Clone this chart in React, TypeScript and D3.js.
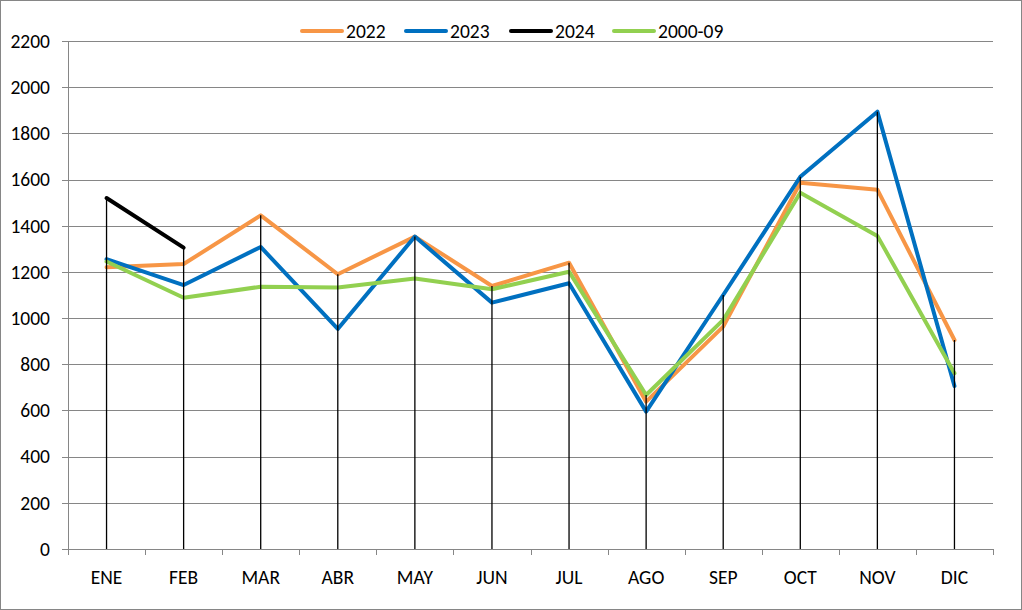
import React, { useEffect, useRef } from "react";
import * as d3 from "d3";

const months = ["ENE", "FEB", "MAR", "ABR", "MAY", "JUN", "JUL", "AGO", "SEP", "OCT", "NOV", "DIC"];
const s2022 = [1220, 1234, 1445, 1190, 1353, 1139, 1240, 638, 963, 1586, 1556, 905];
const s2023 = [1255, 1143, 1308, 953, 1353, 1067, 1151, 595, 1100, 1612, 1894, 706];
const s2024: (number | null)[] = [1520, 1305, null, null, null, null, null, null, null, null, null, null];
const s200009 = [1245, 1088, 1136, 1132, 1171, 1125, 1201, 667, 992, 1543, 1356, 761];
const yTicks = [0, 200, 400, 600, 800, 1000, 1200, 1400, 1600, 1800, 2000, 2200];

const seriesDefs = [
  { name: "2022", values: s2022 as (number | null)[], color: "#F79646" },
  { name: "2023", values: s2023 as (number | null)[], color: "#0070C0" },
  { name: "2024", values: s2024, color: "#000000" },
  { name: "2000-09", values: s200009 as (number | null)[], color: "#92D050" },
];

const W = 1022;
const H = 610;
const FONT = "Carlito, Calibri, 'Open Sans', 'Noto Sans', sans-serif";
const FS = 19.5;

export default function App() {
  const ref = useRef<SVGSVGElement>(null);
  useEffect(() => {
    const svg = d3.select(ref.current);
    svg.selectAll("*").remove();
    const left = 68, right = 993, top = 41, bottom = 549;
    const x = d3.scaleBand<string>().domain(months).range([left, right]);
    const y = d3.scaleLinear().domain([0, 2200]).range([bottom, top]);

    svg.append("rect").attr("x", 0.5).attr("y", 0.5).attr("width", W - 1).attr("height", H - 1)
      .attr("fill", "#fff").attr("stroke", "#868686");

    // gridlines
    svg.append("g").selectAll("line").data(yTicks.filter((t) => t > 0)).join("line")
      .attr("x1", left).attr("x2", right)
      .attr("y1", (d) => Math.round(y(d)) + 0.5).attr("y2", (d) => Math.round(y(d)) + 0.5)
      .attr("stroke", "#868686").attr("stroke-width", 1);

    // y axis
    svg.append("line").attr("x1", left + 0.5).attr("x2", left + 0.5).attr("y1", top).attr("y2", bottom)
      .attr("stroke", "#868686");
    svg.append("g").selectAll("line").data(yTicks).join("line")
      .attr("x1", left - 6).attr("x2", left)
      .attr("y1", (d) => Math.round(y(d)) + 0.5).attr("y2", (d) => Math.round(y(d)) + 0.5)
      .attr("stroke", "#868686");
    svg.append("g").selectAll("text").data(yTicks).join("text")
      .attr("x", left - 18).attr("y", (d) => y(d)).attr("dy", "0.35em")
      .attr("text-anchor", "end").attr("font-family", FONT).attr("font-size", FS).attr("fill", "#000")
      .text((d) => String(d));

    // x axis
    svg.append("line").attr("x1", left).attr("x2", right).attr("y1", bottom + 0.5).attr("y2", bottom + 0.5)
      .attr("stroke", "#868686");
    const bounds = months.map((m) => x(m)!).concat([right]);
    svg.append("g").selectAll("line").data(bounds).join("line")
      .attr("x1", (d) => Math.round(d) + 0.5).attr("x2", (d) => Math.round(d) + 0.5)
      .attr("y1", bottom).attr("y2", bottom + 6).attr("stroke", "#868686");
    svg.append("g").selectAll("text").data(months).join("text")
      .attr("x", (d) => x(d)! + x.bandwidth() / 2).attr("y", 577).attr("dy", "0.35em")
      .attr("text-anchor", "middle").attr("font-family", FONT).attr("font-size", FS).attr("fill", "#000")
      .text((d) => d);

    // series
    const line = d3.line<{ m: string; v: number | null }>()
      .defined((d) => d.v !== null)
      .x((d) => x(d.m)! + x.bandwidth() / 2)
      .y((d) => y(d.v as number));
    seriesDefs.forEach((s) => {
      svg.append("path")
        .datum(months.map((m, i) => ({ m, v: s.values[i] })))
        .attr("d", line as any).attr("fill", "none").attr("stroke", s.color)
        .attr("stroke-width", 4).attr("stroke-linejoin", "round").attr("stroke-linecap", "round");
    });

    // drop lines
    const maxVals = months.map((m, i) => d3.max(seriesDefs, (s) => s.values[i] ?? undefined) as number);
    svg.append("g").selectAll("line").data(months).join("line")
      .attr("x1", (d) => x(d)! + x.bandwidth() / 2).attr("x2", (d) => x(d)! + x.bandwidth() / 2)
      .attr("y1", (d, i) => y(maxVals[i])).attr("y2", bottom)
      .attr("stroke", "#000").attr("stroke-width", 1.3);

    // legend
    const legendX = [302, 406, 511, 614];
    const lg = svg.append("g");
    seriesDefs.forEach((s, i) => {
      lg.append("line").attr("x1", legendX[i]).attr("x2", legendX[i] + 40).attr("y1", 31).attr("y2", 31)
        .attr("stroke", s.color).attr("stroke-width", 4).attr("stroke-linecap", "round");
      lg.append("text").attr("x", legendX[i] + 44).attr("y", 31).attr("dy", "0.35em")
        .attr("font-family", FONT).attr("font-size", FS).attr("fill", "#000").text(s.name);
    });
  }, []);
  return (
    <svg ref={ref} width={W} height={H}
      style={{ position: "absolute", left: 0, top: 0, display: "block" }} />
  );
}
